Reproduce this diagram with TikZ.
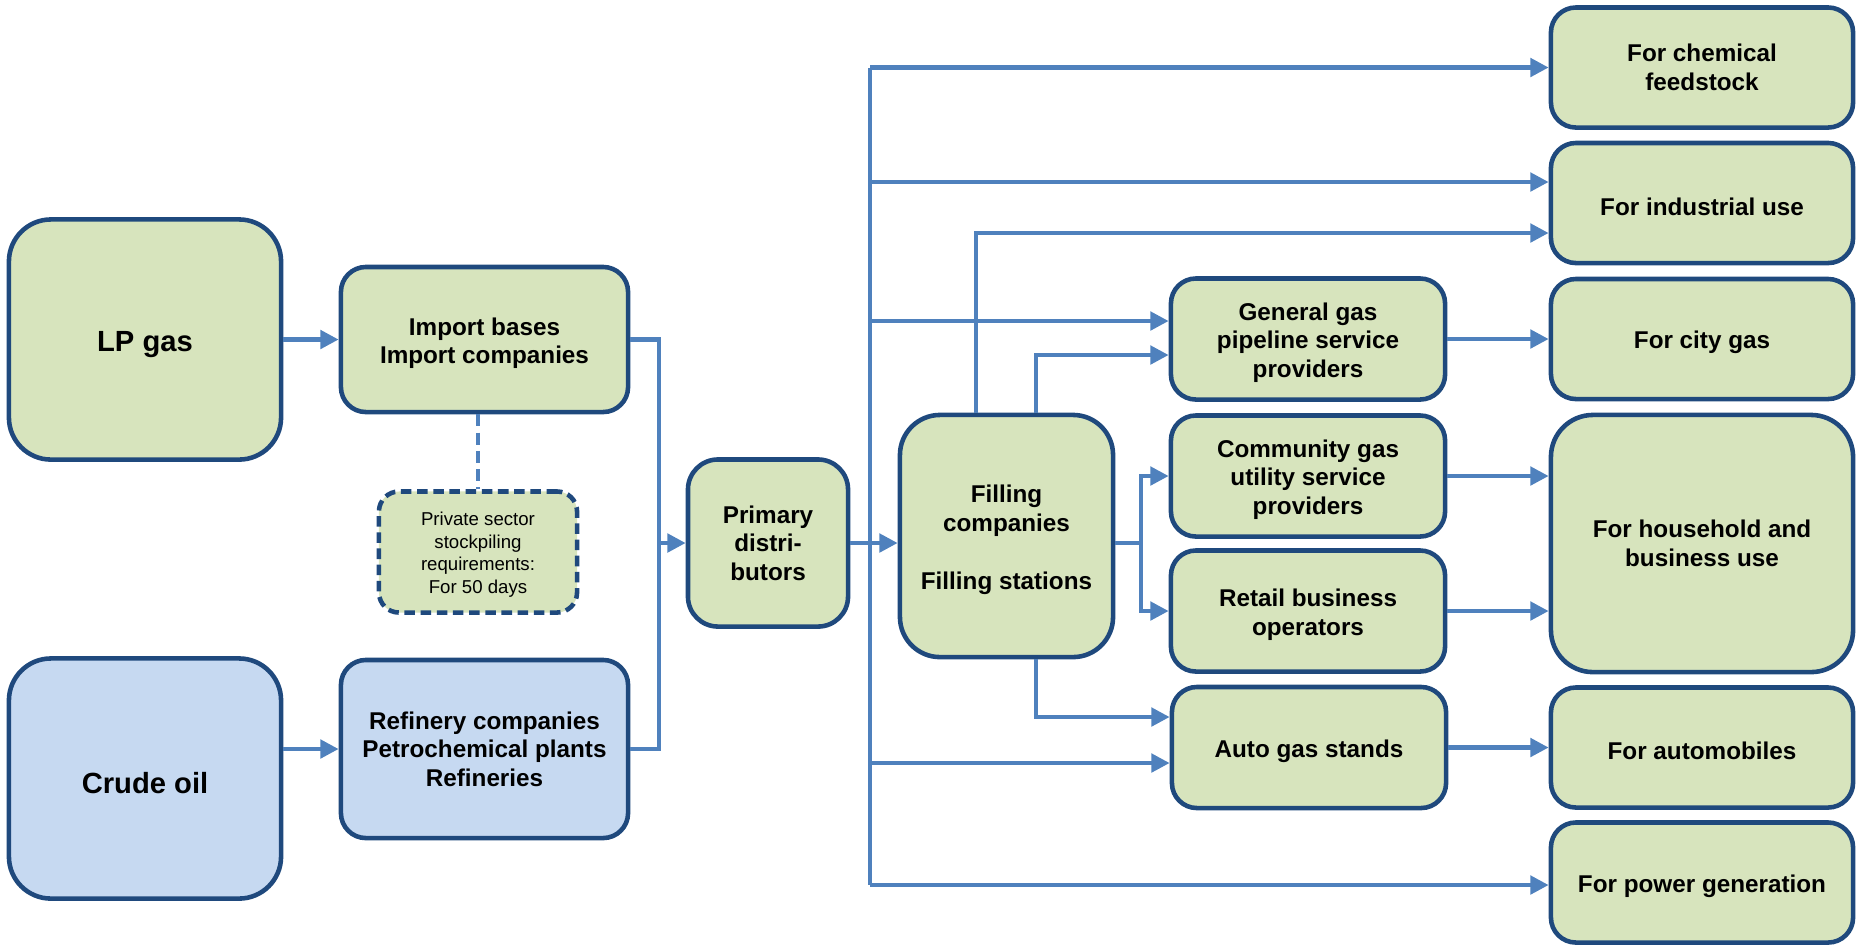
\documentclass[tikz,border=0pt]{standalone}
\usepackage{fontspec}
\setmainfont{Liberation Sans}
\definecolor{lpg_green}{RGB}{215, 228, 189}
\definecolor{lpg_blue}{RGB}{198, 217, 241}
\definecolor{lpg_navy}{RGB}{31, 73, 125}
\definecolor{lpg_line}{RGB}{79, 129, 189}
\usetikzlibrary{arrows.meta, positioning}
\newcommand{\topgap}{\rule{0pt}{1.02em}}

\begin{document}
\begin{tikzpicture}[
        x=0.01cm, y=-0.01cm,
        every node/.style={font=\bfseries\fontsize{6.9}{8.1}\selectfont},
        box/.style={draw=lpg_navy, fill=lpg_green, line width=1.3pt, rounded corners=0.25cm, align=center, inner sep=1pt,
          execute at begin node={\topgap}},
        bigbox/.style={box, rounded corners=0.42cm, minimum width=2.72cm, minimum height=2.4cm, font=\bfseries\fontsize{8.3}{10}\selectfont},
        midbox/.style={box, minimum width=2.87cm},
        chainbox/.style={box, minimum width=2.74cm, minimum height=1.21cm},
        userbox/.style={box, minimum width=3.02cm, minimum height=1.2cm},
        notebox/.style={box, dash pattern=on 3pt off 1.6pt, rounded corners=0.2cm, minimum width=1.98cm, minimum height=1.21cm, font=\mdseries\fontsize{5.3}{6.4}\selectfont},
        link/.style={draw=lpg_line, line width=1.2pt},
        arr/.style={link, -{Triangle[length=5.2pt, width=5.2pt]}},
      ]
        \useasboundingbox (0,0) rectangle (1858,944);

        \node[bigbox] (lpgas) at (145,339.5) {LP gas};
        \node[bigbox, fill=lpg_blue] (crude) at (145,778.5) {Crude oil};
        \node[midbox, minimum height=1.45cm] (import) at (484.5,339.5) {\topgap Import bases\\Import companies};
        \node[midbox, fill=lpg_blue, minimum height=1.78cm] (refinery) at (484.5,749) {Refinery companies\\Petrochemical plants\\Refineries};
        \node[notebox] (stock) at (478,552) {\topgap Private sector\\stockpiling\\requirements:\\For 50 days};
        \node[box, rounded corners=0.3cm, minimum width=1.6cm, minimum height=1.67cm] (primary) at (768,543) {Primary\\distri-\\butors};
        \node[box, rounded corners=0.4cm, minimum width=2.13cm, minimum height=2.42cm] (filling) at (1006.5,536) {\topgap Filling\\companies\\[8.4pt]Filling stations};

        \node[chainbox] (pipeline) at (1308,339) {\topgap General gas\\pipeline service\\providers};
        \node[chainbox] (community) at (1308,476) {\topgap Community gas\\utility service\\providers};
        \node[chainbox] (retail) at (1308,611) {\topgap Retail business\\operators};
        \node[chainbox] (autogas) at (1309,747.5) {Auto gas stands};

        \node[userbox] (chemical) at (1702,67.5) {For chemical\\feedstock};
        \node[userbox] (industrial) at (1702,203) {For industrial use};
        \node[userbox] (citygas) at (1702,339) {For city gas};
        \node[userbox, rounded corners=0.42cm, minimum height=2.57cm] (household) at (1702,543.5) {For household and\\business use};
        \node[userbox] (automobiles) at (1702,747.5) {For automobiles};
        \node[userbox] (power) at (1702,882.5) {For power generation};

        \coordinate (merge) at (659,543);
        \coordinate (busTop) at (870,67.5);
        \coordinate (busBot) at (870,885);
        \coordinate (tapInd) at (870,182);
        \coordinate (tapPipe) at (870,321);
        \coordinate (tapAuto) at (870,763);
        \coordinate (upInd) at (976,233);
        \coordinate (upPipe) at (1036,355);
        \coordinate (downAuto) at (1036,717);
        \coordinate (split) at (1141,543);

        \draw[arr] (lpgas) -- (import);
        \draw[arr] (crude.east |- refinery.east) -- (refinery.east -| refinery.west);
        \draw[link, line width=1.35pt, dash pattern=on 3.4pt off 1.8pt] (import.south -| stock.north) -- (stock.north);

        \draw[link] (import.east) -| (merge) |- (refinery.east);
        \draw[arr] (merge) -- (primary.west);
        \draw[arr] (primary.east) -- (primary.east -| filling.west);

        \draw[link] (busTop) -- (busBot);
        \draw[arr] (busTop) -- (chemical.west);
        \draw[arr] (tapInd) -- (tapInd -| industrial.west);
        \draw[arr] (tapPipe) -- (tapPipe -| pipeline.west);
        \draw[arr] (tapAuto) -- (tapAuto -| autogas.west);
        \draw[arr] (busBot) -- (busBot -| power.west);

        \draw[arr] (filling.north -| upInd) -- (upInd) -- (upInd -| industrial.west);
        \draw[arr] (filling.north -| upPipe) -- (upPipe) -- (upPipe -| pipeline.west);
        \draw[arr] (filling.south -| downAuto) -- (downAuto) -- (downAuto -| autogas.west);
        \draw[link] (filling.east |- split) -- (split);
        \draw[arr] (split) |- (community.west);
        \draw[arr] (split) |- (retail.west);

        \draw[arr] (pipeline) -- (citygas);
        \draw[arr] (community.east) -- (community.east -| household.west);
        \draw[arr] (retail.east) -- (retail.east -| household.west);
        \draw[arr] (autogas) -- (automobiles);
      \end{tikzpicture}
\end{document}
